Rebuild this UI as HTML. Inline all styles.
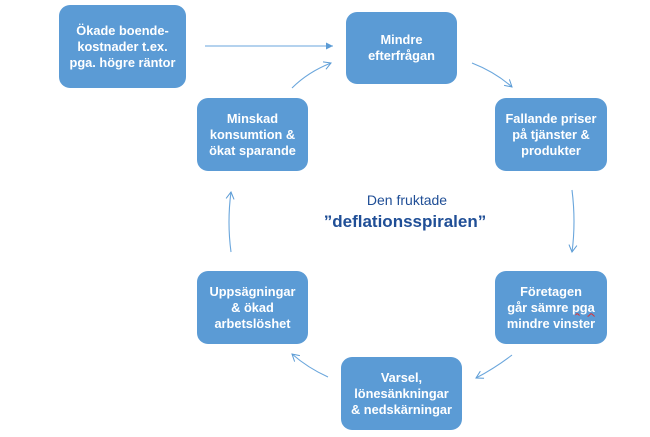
<!DOCTYPE html>
<html><head><meta charset="utf-8">
<style>
html,body{margin:0;padding:0;background:#fff;}
#c{position:relative;width:650px;height:437px;overflow:hidden;background:#fff;}
.b{position:absolute;background:#5b9bd5;border-radius:11px;color:#fff;font-family:"Liberation Sans",sans-serif;font-weight:bold;font-size:12.8px;line-height:16px;text-align:center;display:flex;align-items:center;justify-content:center;}
.b>div{display:block;}
.t{position:absolute;left:255px;width:300px;text-align:center;font-family:"Liberation Sans",sans-serif;color:#1f4e96;}
svg{position:absolute;left:0;top:0;}
.sq{text-decoration:underline wavy #e03030;text-decoration-thickness:1px;}
</style></head><body>
<div id="c">
<svg width="650" height="437" viewBox="0 0 650 437">
<defs>
<marker id="o" markerWidth="10" markerHeight="10" refX="8" refY="5" orient="auto" markerUnits="userSpaceOnUse">
<path d="M1,1 L8,5 L1,9" fill="none" stroke="#5b9bd5" stroke-width="1"/>
</marker>
<marker id="f" markerWidth="10" markerHeight="10" refX="8" refY="5" orient="auto" markerUnits="userSpaceOnUse">
<path d="M1,1.5 L8,5 L1,8.5 Z" fill="#5b9bd5"/>
</marker>
</defs>
<g fill="none" stroke="#6aa6dc" stroke-width="1.1">
<path d="M205,46 L333,46" marker-end="url(#f)"/>
<path d="M292,88 Q308,72 331,63" marker-end="url(#o)"/>
<path d="M472,63 Q495,72 512,87" marker-end="url(#o)"/>
<path d="M572,190 Q576,222 572,252" marker-end="url(#o)"/>
<path d="M512,355 Q495,368 476,378" marker-end="url(#o)"/>
<path d="M328,377 Q308,368 292,354" marker-end="url(#o)"/>
<path d="M231,252 Q227,222 231,192" marker-end="url(#o)"/>
</g>
</svg>
<div class="b" style="left:59px;top:5px;width:127px;height:83px;"><div>Ökade boende-<br>kostnader t.ex.<br>pga. högre räntor</div></div>
<div class="b" style="left:346px;top:12px;width:111px;height:72px;"><div>Mindre<br>efterfrågan</div></div>
<div class="b" style="left:197px;top:98px;width:111px;height:73px;"><div>Minskad<br>konsumtion &amp;<br>ökat sparande</div></div>
<div class="b" style="left:495px;top:98px;width:112px;height:73px;"><div>Fallande priser<br>på tjänster &amp;<br>produkter</div></div>
<div class="b" style="left:495px;top:271px;width:112px;height:73px;"><div>Företagen<br>går sämre <span class="sq">pga</span><br>mindre vinster</div></div>
<div class="b" style="left:197px;top:271px;width:111px;height:73px;"><div>Uppsägningar<br>&amp; ökad<br>arbetslöshet</div></div>
<div class="b" style="left:341px;top:357px;width:121px;height:73px;"><div>Varsel,<br>lönesänkningar<br>&amp; nedskärningar</div></div>
<div class="t" style="top:191px;font-size:14px;line-height:18px;left:257px;">Den fruktade</div>
<div class="t" style="top:212px;font-size:17px;line-height:20px;font-weight:bold;">”deflationsspiralen”</div>
</div>
</body></html>
